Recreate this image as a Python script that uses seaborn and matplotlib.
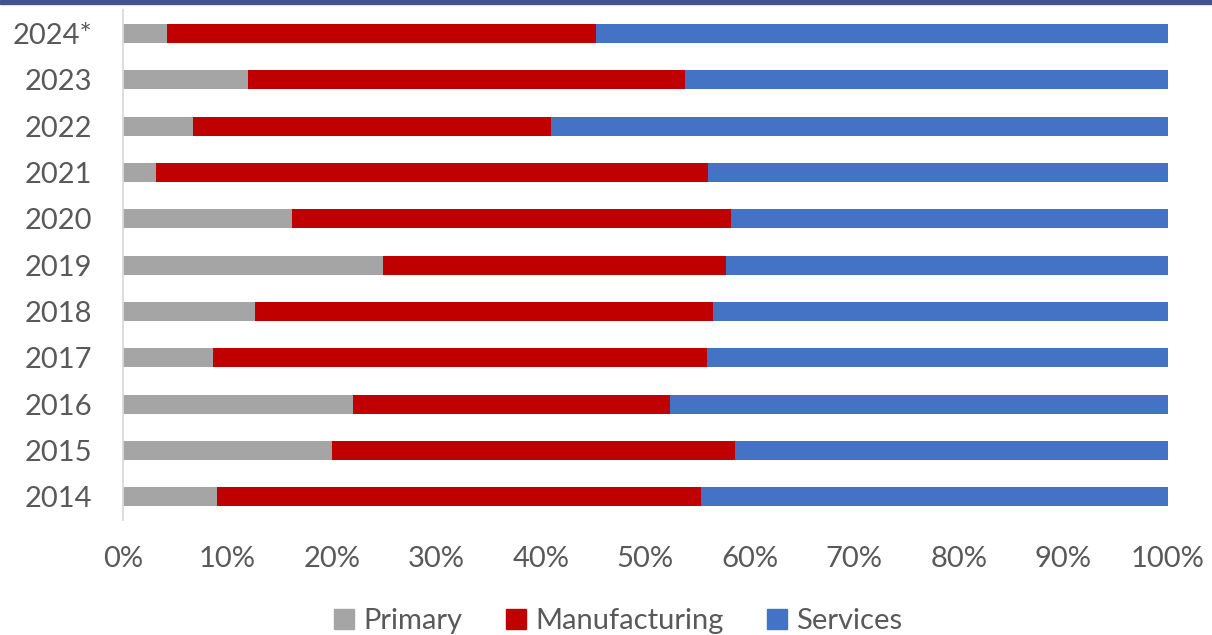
import matplotlib
matplotlib.use("Agg")
import matplotlib.pyplot as plt
import matplotlib.patches as mpatches
import seaborn as sns
import pandas as pd

years = ["2024*", "2023", "2022", "2021", "2020", "2019", "2018", "2017", "2016", "2015", "2014"]
primary = [4.2, 12.0, 6.7, 3.2, 16.2, 24.9, 12.6, 8.6, 22.0, 20.0, 9.0]
manufacturing = [41.1, 41.8, 34.3, 52.8, 42.0, 32.8, 43.9, 47.3, 30.4, 38.6, 46.3]
services = [round(100 - p - m, 1) for p, m in zip(primary, manufacturing)]

colors = {"Primary": "#A5A5A5", "Manufacturing": "#C00000", "Services": "#4472C4"}

df = pd.DataFrame({"year": years, "Primary": primary,
                   "Manufacturing": manufacturing, "Services": services})
df["cum_p"] = df["Primary"]
df["cum_m"] = df["Primary"] + df["Manufacturing"]
df["cum_s"] = df["cum_m"] + df["Services"]

sns.set_theme(style="white")
plt.rcParams["font.family"] = ["Lato", "DejaVu Sans"]

fig = plt.figure(figsize=(12.12, 6.35), dpi=100)
ax = fig.add_axes([0.1015, 0.181, 0.862, 0.8025])

w = 0.41
for col, name in [("cum_s", "Services"), ("cum_m", "Manufacturing"), ("cum_p", "Primary")]:
    sns.barplot(data=df, x=col, y="year", order=years, color=colors[name],
                width=w, ax=ax, saturation=1, linewidth=0, orient="h")

ax.set_xlim(0, 100)
ax.set_xticks(range(0, 101, 10))
ax.set_xticklabels([f"{v}%" for v in range(0, 101, 10)])
ax.set_xlabel("")
ax.set_ylabel("")
for s in ["top", "right", "bottom"]:
    ax.spines[s].set_visible(False)
ax.spines["left"].set_color("#D9D9D9")
ax.spines["left"].set_linewidth(1.3)
ax.tick_params(axis="both", length=0, labelsize=21, colors="#595959")
ax.tick_params(axis="y", pad=22)
ax.tick_params(axis="x", pad=19)

handles = [mpatches.Patch(color=colors[n], label=n) for n in ["Primary", "Manufacturing", "Services"]]
leg = fig.legend(handles=handles, loc="center", bbox_to_anchor=(0.51, 0.022), ncol=3,
                 frameon=False, fontsize=21, handlelength=0.7, handleheight=0.7,
                 handletextpad=0.3, columnspacing=1.5)
for t in leg.get_texts():
    t.set_color("#595959")

fig.patches.append(mpatches.Rectangle((0, 1 - 4 / 635), 1, 4 / 635, transform=fig.transFigure,
                                      color="#44528F", zorder=10))

fig.savefig("out.png", dpi=100)
